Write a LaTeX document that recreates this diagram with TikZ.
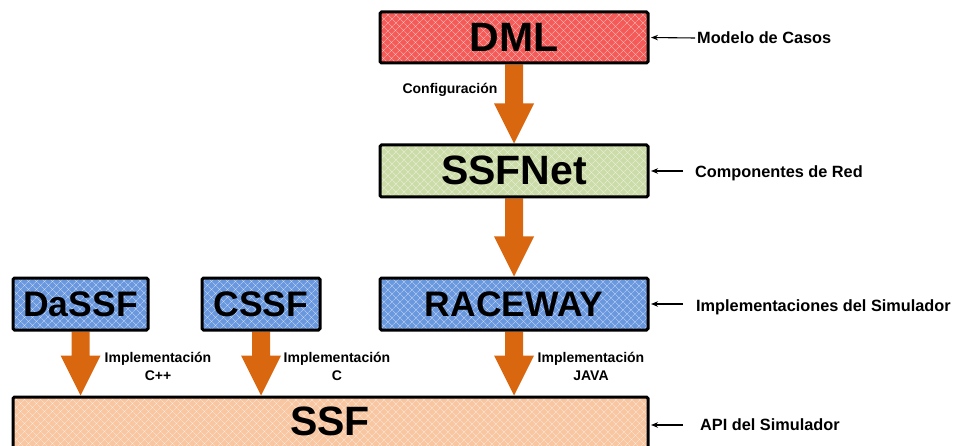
\documentclass[tikz,border=0pt]{standalone}
\usepackage{fontspec}
\setmainfont{Liberation Sans}
\usetikzlibrary{arrows.meta,patterns.meta,backgrounds,calc}

\definecolor{dmlred}{HTML}{F45A58}
\definecolor{netgreen}{HTML}{CCDCA8}
\definecolor{simblue}{HTML}{6A98DE}
\definecolor{apipeach}{HTML}{F8C6A0}
\definecolor{flow}{HTML}{D9670F}

% thick orange block arrow from the bottom of #1 down to the top of #2
\newcommand{\flowarrow}[2]{%
  \fill[flow] ($(#1.south)+(-9,0)$)
    -- ($(#1.south|-#2.north)+(-9,-40)$)
    -- ($(#1.south|-#2.north)+(-20,-40)$)
    -- (#1.south|-#2.north)
    -- ($(#1.south|-#2.north)+(20,-40)$)
    -- ($(#1.south|-#2.north)+(9,-40)$)
    -- ($(#1.south)+(9,0)$) -- cycle;}

\begin{document}
\begin{tikzpicture}[x=1pt,y=-1pt,
  layerbox/.style={
    preaction={fill=#1},
    preaction={pattern={Lines[angle=45,distance=5.4pt,line width=0.7pt]},
               pattern color=white, fill opacity=0.4},
    preaction={pattern={Lines[angle=-45,distance=5.4pt,line width=0.7pt]},
               pattern color=white, fill opacity=0.4},
    draw=black, line width=3pt, rounded corners=1.5pt, inner sep=0pt,
    text height=28pt, text depth=0pt},
  bigtext/.style={font=\fontsize{41}{41}\selectfont\bfseries},
  midtext/.style={font=\fontsize{35.5}{35.5}\selectfont\bfseries, text height=25pt},
  steplabel/.style={font=\fontsize{14}{18}\selectfont\bfseries, align=center, inner sep=0pt},
  sidelabel/.style={font=\fontsize{16.3}{18}\selectfont\bfseries, anchor=west,
    inner sep=0pt, text height=11.7pt, text depth=0pt},
  pointer/.style={draw=black, line width=1.1pt,
    -{Stealth[length=7pt,width=5.5pt]}, shorten >=1.5pt}
]
\useasboundingbox (0,0) rectangle (955,446);

% layer boxes
\node[layerbox=dmlred, bigtext, minimum width=268pt, minimum height=51pt] (dml) at (514,37.5) {DML};
\node[layerbox=netgreen, bigtext, minimum width=268pt, minimum height=52pt] (ssfnet) at (514,171) {SSFNet};
\node[layerbox=simblue, midtext, minimum width=268pt, minimum height=52pt] (raceway) at (514,304) {RACEWAY};
\node[layerbox=simblue, midtext, minimum width=135pt, minimum height=52pt] (dassf) at (80.5,304) {DaSSF};
\node[layerbox=simblue, midtext, minimum width=118pt, minimum height=52pt] (cssf) at (261,304) {CSSF};
\node[layerbox=apipeach, minimum width=635pt, minimum height=56pt] (ssf) at (330.5,425) {};
\node[bigtext, inner sep=0pt, text height=29pt, text depth=0pt] (ssftext) at (330,421) {SSF};

% block arrows between layers
\begin{scope}[on background layer]
  \flowarrow{dml}{ssfnet}
  \flowarrow{ssfnet}{raceway}
  \flowarrow{dassf}{ssf}
  \flowarrow{cssf}{ssf}
  \flowarrow{raceway}{ssf}
\end{scope}

% arrow labels
\node[steplabel] (lconf) at (450,90) {Configuración};
\node[steplabel] (lcpp) at (158,366) {Implementación\\C++};
\node[steplabel] (lc) at (337,366) {Implementación\\C};
\node[steplabel] (ljava) at (591,366) {Implementación\\JAVA};

% side descriptions
\node[sidelabel] (tdml) at (697,38) {Modelo de Casos};
\node[sidelabel] (tnet) at (695,172) {Componentes de Red};
\node[sidelabel] (timpl) at (696,306) {Implementaciones del Simulador};
\node[sidelabel] (tapi) at (700,425) {API del Simulador};

\coordinate (pnet) at (683,171);
\coordinate (pimpl) at (683,304);
\coordinate (papi) at (683,425);

\draw[pointer] (tdml.west) ++(-2,0) -- (dml.east);
\draw[pointer] (pnet) -- (ssfnet.east);
\draw[pointer] (pimpl) -- (raceway.east);
\draw[pointer] (papi) -- (ssf.east);
\end{tikzpicture}
\end{document}
